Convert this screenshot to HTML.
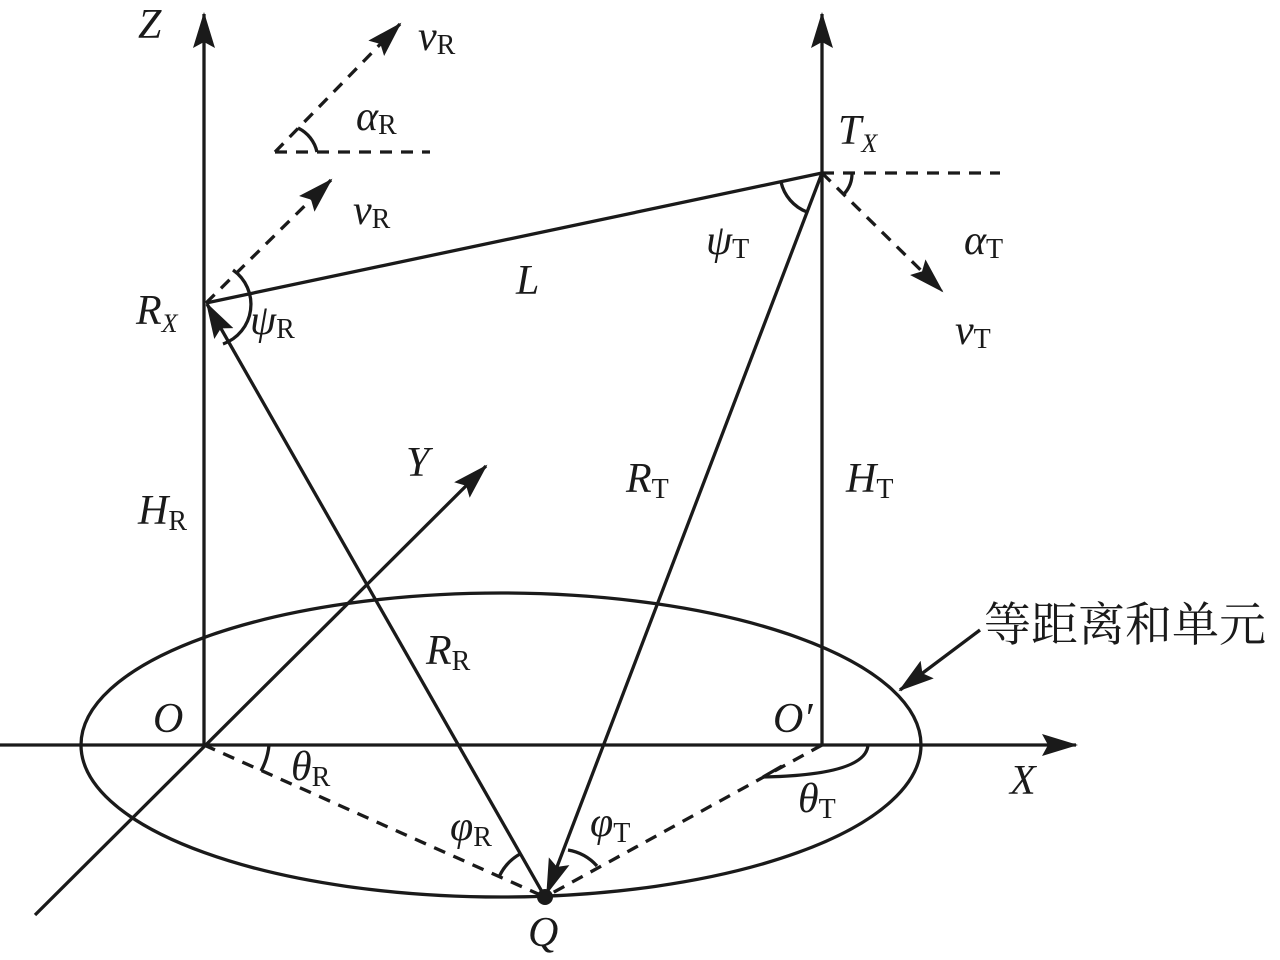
<!DOCTYPE html>
<html><head><meta charset="utf-8"><style>
html,body{margin:0;padding:0;background:#fff;}
svg text{font-family:"Liberation Serif",serif;fill:#1a1a1a;}
.it{font-style:italic;}
</style></head><body>
<svg width="1280" height="955" viewBox="0 0 1280 955" xmlns="http://www.w3.org/2000/svg">
<defs>
<marker id="a" markerWidth="36" markerHeight="24" refX="34" refY="12" orient="auto" markerUnits="userSpaceOnUse">
<path d="M0,1 L36,12 L0,23 L6,12 Z" fill="#1a1a1a"/>
</marker>
</defs>
<g stroke="#1a1a1a" stroke-width="3.3" fill="none">
<ellipse cx="501" cy="745" rx="420" ry="152"/>
<line x1="204" y1="745" x2="204" y2="14" marker-end="url(#a)"/>
<line x1="822" y1="745" x2="822" y2="14" marker-end="url(#a)"/>
<line x1="0" y1="745" x2="1076" y2="745" marker-end="url(#a)"/>
<line x1="35" y1="915" x2="486" y2="466" marker-end="url(#a)"/>
<line x1="206" y1="303" x2="822" y2="173"/>
<line x1="545" y1="897" x2="207" y2="304" marker-end="url(#a)"/>
<line x1="822" y1="173" x2="547" y2="893" marker-end="url(#a)"/>
<line x1="980" y1="630" x2="900" y2="690" marker-end="url(#a)"/>
<g stroke-dasharray="12,9">
<line x1="204" y1="745" x2="545" y2="897"/>
<line x1="822" y1="745" x2="545" y2="897"/>
<line x1="206" y1="303" x2="331" y2="180" marker-end="url(#a)"/>
<line x1="275" y1="152" x2="400" y2="24" marker-end="url(#a)"/>
<line x1="275" y1="152" x2="430" y2="152"/>
<line x1="822" y1="173" x2="1000" y2="173"/>
<line x1="822" y1="173" x2="942" y2="291" marker-end="url(#a)"/>
</g>
<path d="M233,270 A42,42 0 0 1 223,344"/>
<path d="M781,182 A42,42 0 0 0 807,212"/>
<path d="M852,173 A30,30 0 0 1 844,194"/>
<path d="M298,128 A35,35 0 0 1 317,152"/>
<path d="M269,745 A65,65 0 0 1 261,771"/>
<path d="M868,745 Q866,775 763,777"/>
<path d="M763,777 L782,766"/>
<path d="M499,877 A50,50 0 0 1 520,854"/>
<path d="M568,850 A50,50 0 0 1 597,866"/>
</g>
<circle cx="545" cy="897" r="8" fill="#1a1a1a"/>
<g font-size="42">
<text x="138" y="38" class="it">Z</text>
<text x="418" y="50" class="it">v<tspan font-size="28" font-style="normal" dy="4">R</tspan></text>
<text x="356" y="130" class="it">α<tspan font-size="28" font-style="normal" dy="4">R</tspan></text>
<text x="838" y="144" class="it">T<tspan font-size="26" dy="8">X</tspan></text>
<text x="353" y="224" class="it">v<tspan font-size="28" font-style="normal" dy="4">R</tspan></text>
<text x="706" y="254" class="it">ψ<tspan font-size="28" font-style="normal" dy="4">T</tspan></text>
<text x="964" y="254" class="it">α<tspan font-size="28" font-style="normal" dy="4">T</tspan></text>
<text x="136" y="324" class="it">R<tspan font-size="26" dy="8">X</tspan></text>
<text x="250" y="334" class="it">ψ<tspan font-size="28" font-style="normal" dy="4">R</tspan></text>
<text x="516" y="294" class="it">L</text>
<text x="955" y="344" class="it">v<tspan font-size="28" font-style="normal" dy="4">T</tspan></text>
<text x="406" y="476" class="it">Y</text>
<text x="626" y="492" class="it">R<tspan font-size="28" font-style="normal" dy="6">T</tspan></text>
<text x="846" y="492" class="it">H<tspan font-size="28" font-style="normal" dy="6">T</tspan></text>
<text x="138" y="524" class="it">H<tspan font-size="28" font-style="normal" dy="6">R</tspan></text>
<text x="426" y="664" class="it">R<tspan font-size="28" font-style="normal" dy="6">R</tspan></text>
<text x="153" y="732" class="it">O</text>
<text x="773" y="732" class="it">O′</text>
<text x="1010" y="794" class="it">X</text>
<text x="291" y="780" class="it">θ<tspan font-size="28" font-style="normal" dy="6">R</tspan></text>
<text x="798" y="812" class="it">θ<tspan font-size="28" font-style="normal" dy="6">T</tspan></text>
<text x="450" y="840" class="it">φ<tspan font-size="28" font-style="normal" dy="6">R</tspan></text>
<text x="590" y="836" class="it">φ<tspan font-size="28" font-style="normal" dy="6">T</tspan></text>
<text x="528" y="946" class="it">Q</text>
</g>
<text x="984" y="641" font-size="47" style="font-family:'Liberation Serif','Noto Serif CJK SC',serif">等距离和单元</text>
</svg>
</body></html>
